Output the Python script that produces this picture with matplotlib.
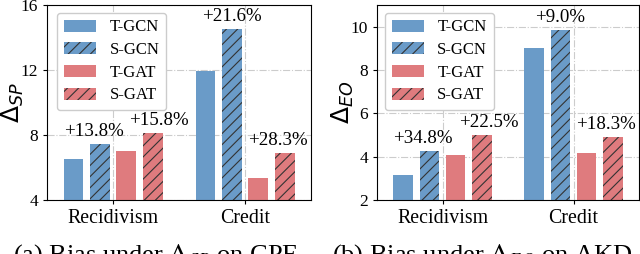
import matplotlib
matplotlib.use("Agg")
import matplotlib.pyplot as plt
from matplotlib.font_manager import FontProperties
import numpy as np

plt.rcParams['hatch.linewidth'] = 0.8
plt.rcParams['hatch.color'] = '#333333'

groups = ["Recidivism", "Credit"]
series = ["T-GCN", "S-GCN", "T-GAT", "S-GAT"]
sp_values = {
    "T-GCN": [6.5, 11.92],
    "S-GCN": [7.45, 14.52],
    "T-GAT": [7.0, 5.33],
    "S-GAT": [8.12, 6.87],
}
eo_values = {
    "T-GCN": [3.16, 9.01],
    "S-GCN": [4.25, 9.85],
    "T-GAT": [4.08, 4.15],
    "S-GAT": [5.01, 4.93],
}
sp_labels = {"S-GCN": ["+13.8%", "+21.6%"], "S-GAT": ["+15.8%", "+28.3%"]}
eo_labels = {"S-GCN": ["+34.8%", "+9.0%"], "S-GAT": ["+22.5%", "+18.3%"]}
sp_yticks = [4, 8, 12, 16]
eo_yticks = [2, 4, 6, 8, 10]

blue = '#6a9bc8'
red = '#df7b7e'
colors = {"T-GCN": blue, "S-GCN": blue, "T-GAT": red, "S-GAT": red}
hatches = {"T-GCN": None, "S-GCN": '///', "T-GAT": None, "S-GAT": '///'}
offsets = [-0.3, -0.1, 0.1, 0.3]
width = 0.15

serif = 'Liberation Serif'
fig = plt.figure(figsize=(6.4, 2.54), dpi=100)
ax1 = fig.add_axes([47/640, 1-200/254, 264/640, 195/254])
ax2 = fig.add_axes([377/640, 1-200/254, 262/640, 195/254])

def draw(ax, values, labels, ylim, yticks, ylabel, lab_shift, legx, labx):
    x = np.arange(len(groups))
    ax.set_axisbelow(True)
    ax.grid(True, linestyle='-.', color='#cccccc', linewidth=0.8)
    for i, s in enumerate(series):
        bars = ax.bar(x + offsets[i], values[s], width, color=colors[s],
                      hatch=hatches[s], edgecolor='#333333' if hatches[s] else colors[s],
                      linewidth=0, label=s)
        if s in labels:
            for j, b in enumerate(bars):
                ax.text(b.get_x() + b.get_width()/2 + lab_shift[s][j],
                        b.get_height() + (ylim[1]-ylim[0])*0.02,
                        labels[s][j], ha='center', va='bottom', fontsize=13.6, family=serif)
    ax.set_xlim(-0.5, 1.5)
    ax.set_ylim(*ylim)
    ax.set_yticks(yticks)
    ax.set_xticks(x)
    ax.set_xticklabels(groups, fontsize=14.3, family=serif)
    for t in ax.get_yticklabels():
        t.set_fontsize(12.5)
        t.set_family(serif)
    ax.set_ylabel(ylabel, fontsize=18)
    ax.yaxis.set_label_coords(labx, 0.5)
    ax.tick_params(length=3)
    ax.legend(loc='upper left', prop={'family': serif, 'size': 12},
              handlelength=1.95, handleheight=0.75, labelspacing=0.4,
              handletextpad=0.8, borderpad=0.4, borderaxespad=0,
              framealpha=1, edgecolor='#cccccc',
              bbox_to_anchor=(legx, 0.96))

draw(ax1, sp_values, sp_labels, (4, 16), sp_yticks, r'$\Delta_{SP}$',
     {"S-GCN": [-0.045, 0.0], "S-GAT": [0.045, -0.05]}, 0.038, -0.078)
draw(ax2, eo_values, eo_labels, (2, 11), eo_yticks, r'$\Delta_{EO}$',
     {"S-GCN": [-0.053, 0.0], "S-GAT": [0.053, -0.053]}, 0.03, -0.08)

cap = FontProperties(family=serif, size=19, math_fontfamily='stix')
fig.text(155/640, 1-242/254, r'(a) Bias under $\Delta_{SP}$ on CPF', ha='center', va='top',
         fontproperties=cap)
fig.text(482/640, 1-242/254, r'(b) Bias under $\Delta_{EO}$ on AKD', ha='center', va='top',
         fontproperties=cap)

fig.savefig('out.png', dpi=100)
